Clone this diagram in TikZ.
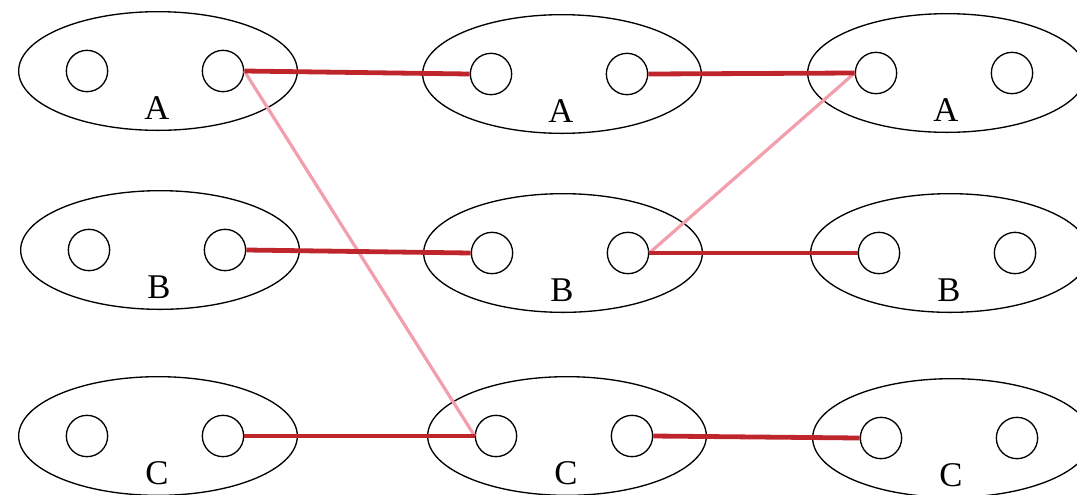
\documentclass[tikz,border=0pt]{standalone}
\usepackage{fontspec}
\setmainfont{Liberation Serif}
\usetikzlibrary{shapes.geometric}
\definecolor{linkred}{RGB}{190,38,44}
\definecolor{linkpink}{RGB}{242,158,172}
\tikzset{
  setshape/.style={draw=black, ellipse, line width=1pt,
    minimum width=209pt, minimum height=89pt, inner sep=0pt},
  member/.style={draw=black, circle, line width=1pt,
    minimum size=31pt, inner sep=0pt},
  setlabel/.style={font=\fontsize{26}{26}\selectfont, inner sep=0pt},
  strong/.style={draw=linkred, line width=3.6pt},
  weak/.style={draw=linkpink, line width=2.4pt},
}
% one set: outline ellipse, two member circles and a letter
\newcommand{\setgroup}[4]{%
  \node[setshape] (#1) at (#2,#3) {};
  \node[member] (#1l) at (#2-71,#3) {};
  \node[member] (#1r) at (#2+65,#3) {};
  \node[setlabel] (#1t) at (#2-1,#3+37) {#4};
}
\begin{document}
\begin{tikzpicture}[x=0.75pt,y=-0.75pt]
  \useasboundingbox (0,0) rectangle (1077,494);
  \clip (0,0) rectangle (1077,494);
  \setgroup{a1}{158}{71}{A}
  \setgroup{a2}{562}{74}{A}
  \setgroup{a3}{947}{73}{A}
  \setgroup{b1}{160}{250}{B}
  \setgroup{b2}{563}{253}{B}
  \setgroup{b3}{950}{253}{B}
  \setgroup{c1}{158}{436}{C}
  \setgroup{c2}{567}{436}{C}
  \setgroup{c3}{952}{438}{C}
  % cross links
  \draw[weak] (a1r.east) -- (c2l.west);
  \draw[weak] (b2r.east) -- (a3l.west);
  % straight links
  \draw[strong] (a1r.east) -- (a2l.west);
  \draw[strong] (a2r.east) -- (a3l.west);
  \draw[strong] (b1r.east) -- (b2l.west);
  \draw[strong] (b2r.east) -- (b3l.west);
  \draw[strong] (c1r.east) -- (c2l.west);
  \draw[strong] (c2r.east) -- (c3l.west);
\end{tikzpicture}
\end{document}
